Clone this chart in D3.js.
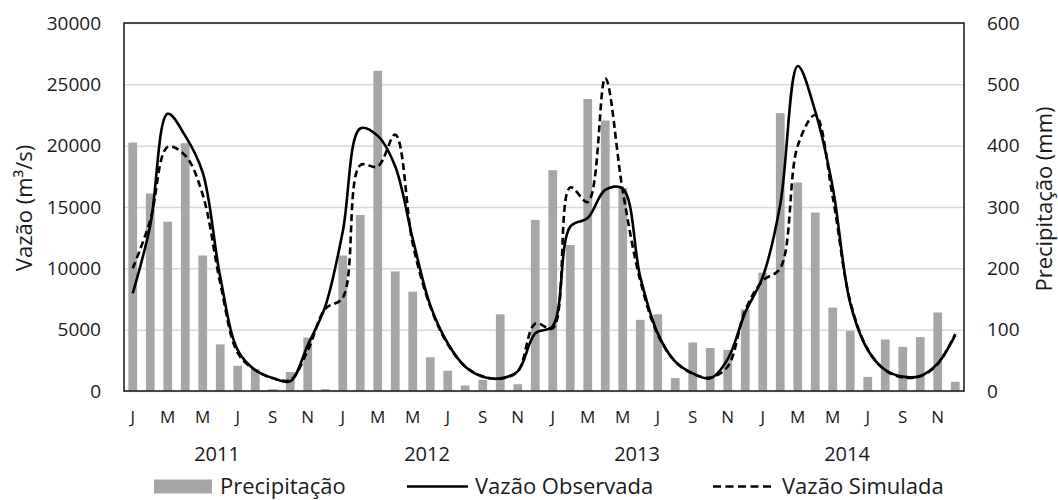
<!DOCTYPE html>
<html>
<head>
<meta charset="utf-8">
<script src="https://cdn.jsdelivr.net/npm/d3@7"></script>
<style>
  body { margin: 0; background: #fff; }
  text { font-family: "Open Sans", sans-serif; fill: #1a1a1a; }
</style>
</head>
<body>
<svg id="chart" width="1058" height="500"></svg>
<script>
// data, one value per month, Jan 2011 .. Dec 2014
const years = ['2011', '2012', '2013', '2014']
const monthLetters = ['J', 'F', 'M', 'A', 'M', 'J', 'J', 'A', 'S', 'O', 'N', 'D']

const precipitacao = [
  405, 322, 276, 404, 221, 76, 41, 36, 3, 31, 87, 3,
  221, 287, 522, 195, 162, 55, 33, 9, 18, 125, 11, 279,
  360, 238, 476, 441, 331, 116, 125, 21, 79, 70, 67, 133,
  193, 453, 340, 291, 136, 98, 23, 84, 72, 88, 128, 15
]

const vazaoObservada = [
  7960, 13500, 22600, 20800, 17800, 9300, 3340, 1710, 1050, 800, 3750, 6900,
  13000, 21400, 20800, 18300, 12400, 7000, 3890, 1980, 1170, 1030, 1600, 4700,
  5300, 13400, 14100, 16400, 16500, 9300, 4700, 2390, 1440, 1030, 2600, 6400,
  9300, 15200, 26500, 22800, 16600, 7150, 3340, 1710, 1170, 1230, 2260, 4560
]

const vazaoSimulada = [
  10000, 13900, 19900, 19200, 16000, 8800, 3100, 1700, 1050, 900, 3300, 6700,
  7600, 18400, 18300, 20900, 12000, 6900, 3800, 2000, 1200, 1000, 1600, 5500,
  5100, 16600, 15400, 25500, 16300, 9000, 4600, 2400, 1400, 1100, 2000, 6600,
  9000, 10000, 20000, 22500, 15800, 7300, 3400, 1700, 1100, 1200, 2200, 4650
]

const leftTicks = [0, 5000, 10000, 15000, 20000, 25000, 30000]
const rightTicks = [0, 100, 200, 300, 400, 500, 600]

let margin = {top: 23, right: 94, bottom: 109, left: 124}
let width = 1058 - margin.left - margin.right
let height = 500 - margin.top - margin.bottom

let months = d3.range(years.length * 12)

let x = d3.scaleBand()
    .domain(months)
    .range([0, width])
    .paddingInner(0.5)
    .paddingOuter(0.25)

let yL = d3.scaleLinear().domain([0, 30000]).range([height, 0])
let yR = d3.scaleLinear().domain([0, 600]).range([height, 0])

let svg = d3.select('#chart')
let chart = svg.append('g')
    .attr('transform', 'translate(' + margin.left + ',' + margin.top + ')')

// gridlines
chart.append('g')
    .attr('class', 'grid')
    .call(d3.axisLeft(yL).tickValues(leftTicks).tickSize(-width).tickFormat(''))
    .call(g => g.select('.domain').remove())
    .call(g => g.selectAll('line').attr('stroke', '#d9d9d9').attr('stroke-width', 1.5))

// bars
chart.selectAll('.bar')
    .data(precipitacao)
  .enter().append('rect')
    .attr('class', 'bar')
    .attr('x', (d, i) => x(i))
    .attr('y', d => yR(d))
    .attr('width', x.bandwidth())
    .attr('height', d => height - yR(d))
    .attr('fill', '#a6a6a6')

let cx = i => x(i) + x.bandwidth() / 2
let line = d3.line()
    .x((d, i) => cx(i))
    .y(d => yL(d))
    .curve(d3.curveCatmullRom.alpha(0.5))

chart.append('path')
    .datum(vazaoSimulada)
    .attr('d', line)
    .attr('fill', 'none')
    .attr('stroke', '#000')
    .attr('stroke-width', 2.6)
    .attr('stroke-dasharray', '7,4')

chart.append('path')
    .datum(vazaoObservada)
    .attr('d', line)
    .attr('fill', 'none')
    .attr('stroke', '#000')
    .attr('stroke-width', 2.6)

// frame
chart.append('rect')
    .attr('width', width)
    .attr('height', height)
    .attr('fill', 'none')
    .attr('stroke', '#222')
    .attr('stroke-width', 1.6)

// left axis
chart.append('g')
    .call(d3.axisLeft(yL).tickValues(leftTicks).tickSize(0).tickPadding(23).tickFormat(d3.format('d')))
    .call(g => g.select('.domain').remove())
    .call(g => g.selectAll('text').style('font-size', '19px').attr('fill', '#1a1a1a'))

// right axis
chart.append('g')
    .attr('transform', 'translate(' + width + ',0)')
    .call(d3.axisRight(yR).tickValues(rightTicks).tickSize(0).tickPadding(23))
    .call(g => g.select('.domain').remove())
    .call(g => g.selectAll('text').style('font-size', '19px').attr('fill', '#1a1a1a'))

// month axis
chart.append('g')
    .attr('transform', 'translate(0,' + height + ')')
    .call(d3.axisBottom(x)
      .tickValues(months.filter(m => m % 2 === 0))
      .tickSize(0)
      .tickPadding(20)
      .tickFormat(m => monthLetters[m % 12]))
    .call(g => g.select('.domain').remove())
    .call(g => g.selectAll('text').style('font-size', '17px').attr('fill', '#1a1a1a'))

// year labels
chart.selectAll('.year')
    .data(years)
  .enter().append('text')
    .attr('class', 'year')
    .attr('x', (d, i) => (x(i * 12) + x(i * 12 + 11) + x.bandwidth()) / 2 - 12)
    .attr('y', height + 70)
    .attr('text-anchor', 'middle')
    .style('font-size', '20px')
    .text(d => d)

// axis titles
svg.append('text')
    .attr('transform', 'translate(32,' + (margin.top + 185) + ') rotate(-90)')
    .attr('text-anchor', 'middle')
    .style('font-size', '22px')
    .text('Vazão (m³/s)')

svg.append('text')
    .attr('transform', 'translate(1052,' + (margin.top + 176) + ') rotate(-90)')
    .attr('text-anchor', 'middle')
    .style('font-size', '22px')
    .text('Precipitação (mm)')

// legend
let legend = svg.append('g').attr('class', 'legend')
let ly = 486.5

legend.append('rect')
    .attr('x', 154).attr('y', ly - 7)
    .attr('width', 58).attr('height', 14)
    .attr('fill', '#a6a6a6')
legend.append('text')
    .attr('x', 220).attr('y', ly + 7.5)
    .style('font-size', '22px')
    .text('Precipitação')

legend.append('line')
    .attr('x1', 407).attr('x2', 468)
    .attr('y1', ly).attr('y2', ly)
    .attr('stroke', '#000').attr('stroke-width', 2.6)
legend.append('text')
    .attr('x', 475).attr('y', ly + 7.5)
    .style('font-size', '22px')
    .text('Vazão Observada')

legend.append('line')
    .attr('x1', 713).attr('x2', 775)
    .attr('y1', ly).attr('y2', ly)
    .attr('stroke', '#000').attr('stroke-width', 2.6)
    .attr('stroke-dasharray', '8,4.5')
legend.append('text')
    .attr('x', 782).attr('y', ly + 7.5)
    .style('font-size', '22px')
    .text('Vazão Simulada')
</script>
</body>
</html>
